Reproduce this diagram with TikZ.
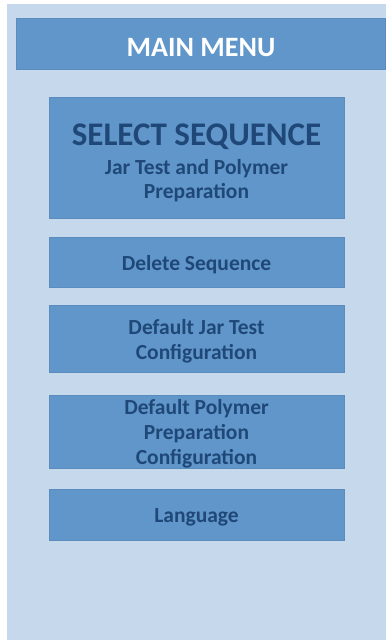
\documentclass[tikz,border=0pt]{standalone}
\usepackage{fontspec}
\setmainfont{Carlito}
\definecolor{panel}{HTML}{C5D8EC}
\definecolor{boxblue}{HTML}{6096CA}
\definecolor{boxedge}{HTML}{5A8CBD}
\definecolor{txtblue}{HTML}{1F4878}
\begin{document}
\begin{tikzpicture}[x=1pt,y=-1pt,
  menubox/.style={rectangle, fill=boxblue, draw=boxedge, line width=0.8pt, inner sep=0pt},
  menutext/.style={text=txtblue, font=\bfseries\fontsize{21.5}{25}\selectfont, inner sep=0pt, anchor=base}]
\useasboundingbox (0,0) rectangle (386,640);
\fill[white] (0,0) rectangle (386,640);
\fill[panel] (7,4) rectangle (386,640);
\node[menubox, minimum width=369, minimum height=51] (head) at (200.5,43.5) {};
\node[text=white, font=\bfseries\fontsize{28}{30}\selectfont, inner sep=0pt, anchor=base] (headt) at (201,56.7) {MAIN MENU};
\node[menubox, minimum width=295, minimum height=121] (sel) at (196.5,157.5) {};
\node[menutext, font=\bfseries\fontsize{33}{36}\selectfont] (selt1) at (196.5,145.7) {SELECT SEQUENCE};
\node[menutext] (selt2) at (196.5,174.3) {Jar Test and Polymer};
\node[menutext] (selt3) at (196.5,198.3) {Preparation};
\node[menubox, minimum width=295, minimum height=50] (del) at (196.5,262) {};
\node[menutext] (delt) at (196.5,270.7) {Delete Sequence};
\node[menubox, minimum width=295, minimum height=67] (jar) at (196.5,338.5) {};
\node[menutext] (jart1) at (196.5,334.3) {Default Jar Test};
\node[menutext] (jart2) at (196.5,359.3) {Configuration};
\node[menubox, minimum width=295, minimum height=73] (poly) at (196.5,431.5) {};
\node[menutext] (polyt1) at (196.5,414.3) {Default Polymer};
\node[menutext] (polyt2) at (196.5,439.3) {Preparation};
\node[menutext] (polyt3) at (196.5,464.3) {Configuration};
\node[menubox, minimum width=295, minimum height=51] (lang) at (196.5,514.5) {};
\node[menutext] (langt) at (196.5,522.7) {Language};
\end{tikzpicture}
\end{document}
